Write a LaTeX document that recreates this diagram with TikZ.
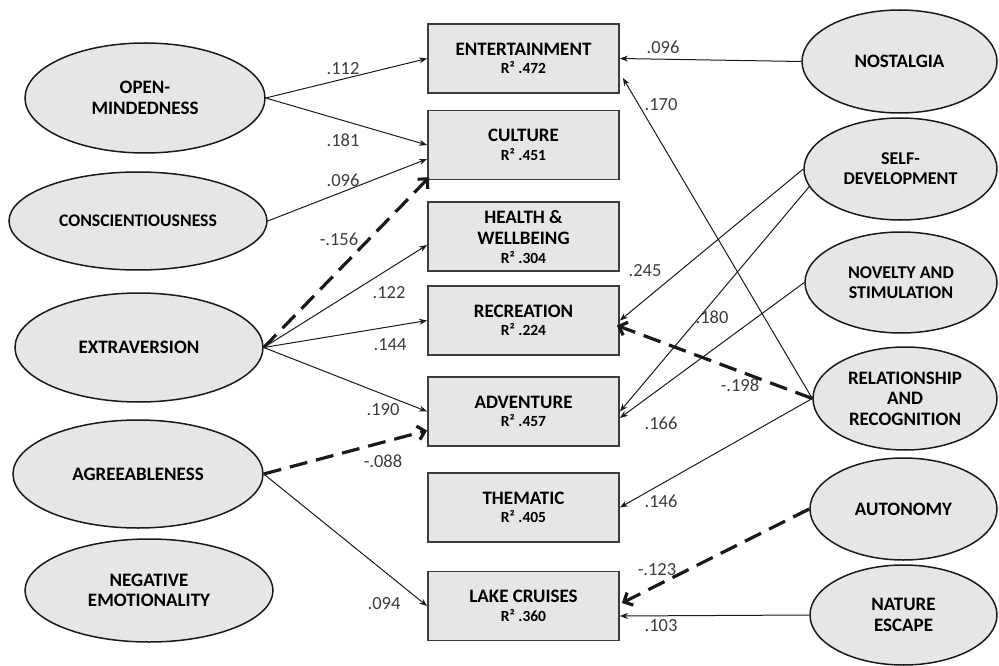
\documentclass[tikz,border=0pt]{standalone}
\usepackage{fontspec}
\setmainfont{Carlito}
\usetikzlibrary{shapes.geometric,arrows.meta}
\definecolor{shade}{HTML}{E6E6E6}
\definecolor{ink}{HTML}{1A1A1A}
\newcommand\rsq[1]{{\fontsize{15.5}{17}\selectfont R² #1}}
\begin{document}
\begin{tikzpicture}[x=1pt,y=-1pt,
  factor/.style={ellipse, draw=ink, line width=1.5pt, fill=shade, inner sep=0pt,
    align=center, font=\bfseries\fontsize{19}{20.5}\selectfont},
  smaller/.style={font=\bfseries\fontsize{18}{20}\selectfont},
  outcome/.style={rectangle, draw=ink!85, line width=1.8pt, fill=shade,
    minimum width=191pt, minimum height=69pt, inner sep=0pt,
    align=center, font=\bfseries\fontsize{19}{21.5}\selectfont},
  effect/.style={draw=ink, line width=1pt, -{Stealth[length=8pt,width=6pt]}},
  negeffect/.style={draw=ink, line width=3.2pt, dash pattern=on 18pt off 9pt,
    -{Straight Barb[length=7pt,width=14pt]}},
  coef/.style={font=\fontsize{18.5}{20}\selectfont, text=ink!85, inner sep=0pt}
]
\useasboundingbox (0,0) rectangle (999,666);

% personality traits (left)
\node[factor, minimum width=240pt, minimum height=110pt] (om) at (145,98) {OPEN-\\MINDEDNESS};
\node[factor, minimum width=258pt, minimum height=98pt, font=\bfseries\fontsize{17.7}{20}\selectfont] (co) at (138,221) {CONSCIENTIOUSNESS};
\node[factor, minimum width=248pt, minimum height=109pt] (ex) at (139,347.5) {EXTRAVERSION};
\node[factor, minimum width=250pt, minimum height=108pt] (ag) at (138,474) {AGREEABLENESS};
\node[factor, minimum width=248pt, minimum height=103pt] (ne) at (149,590.5) {NEGATIVE\\EMOTIONALITY};

% travel types (centre)
\node[outcome] (ent) at (523.5,58.5)  {ENTERTAINMENT\\[-3pt]\rsq{.472}};
\node[outcome] (cul) at (523.5,145)   {CULTURE\\[-3pt]\rsq{.451}};
\node[outcome] (hea) at (523.5,236.5) {HEALTH \&\\WELLBEING\\[-3pt]\rsq{.304}};
\node[outcome] (rec) at (523.5,320.5) {RECREATION\\[-3pt]\rsq{.224}};
\node[outcome] (adv) at (523.5,411.5) {ADVENTURE\\[-3pt]\rsq{.457}};
\node[outcome] (the) at (523.5,507.5) {THEMATIC\\[-3pt]\rsq{.405}};
\node[outcome] (lak) at (523.5,606)   {LAKE CRUISES\\[-3pt]\rsq{.360}};

% travel motivations (right)
\node[factor, minimum width=195pt, minimum height=103pt] (nos) at (899.5,61.5) {NOSTALGIA};
\node[factor, smaller, minimum width=193pt, minimum height=102pt] (sd)  at (900.5,169) {SELF-\\DEVELOPMENT};
\node[factor, smaller, minimum width=192pt, minimum height=101pt] (ns)  at (901,282.5) {NOVELTY AND\\STIMULATION};
\node[factor, minimum width=184pt, minimum height=103pt] (rr)  at (905,398.5) {RELATIONSHIP\\AND\\RECOGNITION};
\node[factor, minimum width=187pt, minimum height=102pt] (au)  at (903.5,509) {AUTONOMY};
\node[factor, minimum width=187pt, minimum height=100pt] (nx)  at (903.5,615) {NATURE\\ESCAPE};

% paths from personality traits
\draw[effect] (om.east) -- (ent.west);
\draw[effect] (om.east) -- (cul.west);
\draw[effect] (co.east) -- ([yshift=-14pt]cul.west);
\draw[negeffect] (ex.east) -- ([yshift=3pt,xshift=2pt]cul.south west);
\draw[effect] (ex.east) -- ([yshift=-8.5pt]hea.west);
\draw[effect] (ex.east) -- (rec.west);
\draw[effect] (ex.east) -- (adv.west);
\draw[negeffect] (ag.east) -- ([yshift=-19pt]adv.west);
\draw[effect] (ag.east) -- (lak.west);

% paths from travel motivations
\draw[effect] (nos.west) -- (ent.east);
\draw[effect] (rr.west) -- ([yshift=-19.5pt,xshift=3pt]ent.east);
\draw[effect] (sd.west) -- (rec.east);
\draw[effect] (sd.191) -- (adv.east);
\draw[effect] (ns.west) -- ([yshift=-6.5pt]adv.east);
\draw[negeffect] (rr.west) -- ([yshift=-5pt,xshift=-3pt]rec.east);
\draw[effect] (rr.west) -- (the.east);
\draw[negeffect] (au.west) -- ([yshift=3pt,xshift=2pt]lak.east);
\draw[effect] (nx.west) -- ([yshift=-10pt]lak.east);

% path coefficients
\node[coef] (k1)  at (343,69)  {.112};
\node[coef] (k2)  at (343,140) {.181};
\node[coef] (k3)  at (343,180) {.096};
\node[coef] (k4)  at (339,239) {-.156};
\node[coef] (k5)  at (389,293) {.122};
\node[coef] (k6)  at (390,345) {.144};
\node[coef] (k7)  at (383,410) {.190};
\node[coef] (k8)  at (383,461) {-.088};
\node[coef] (k9)  at (384,604) {.094};
\node[coef] (k10) at (663,47)  {.096};
\node[coef] (k11) at (661,105) {.170};
\node[coef] (k12) at (645,271) {.245};
\node[coef] (k13) at (712,317) {.180};
\node[coef] (k14) at (740,385) {-.198};
\node[coef] (k15) at (661,423) {.166};
\node[coef] (k16) at (661,501) {.146};
\node[coef] (k17) at (657,570) {-.123};
\node[coef] (k18) at (661,626) {.103};
\end{tikzpicture}
\end{document}
